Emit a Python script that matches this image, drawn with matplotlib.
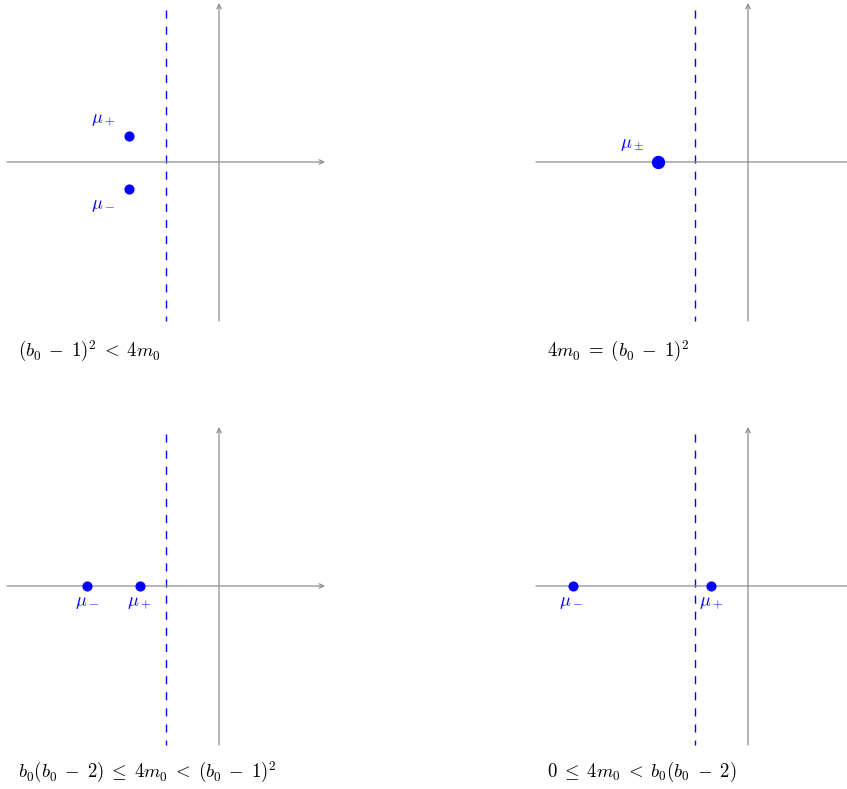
import matplotlib.pyplot as plt
import numpy as np

plt.rcParams['mathtext.fontset'] = 'cm'

# root positions (re, im) for each case, in plot units
roots_re = [[-1.7, -1.7], [-1.7], [-2.5, -1.5], [-3.3, -0.7]]
roots_im = [[0.5, -0.5], [0.0], [0.0, 0.0], [0.0, 0.0]]
root_labels = [[r'$\mu_+$', r'$\mu_-$'], [r'$\mu_\pm$'],
               [r'$\mu_-$', r'$\mu_+$'], [r'$\mu_-$', r'$\mu_+$']]
label_re = [[-2.19, -2.19], [-2.19], [-2.5, -1.5], [-3.34, -0.7]]
label_im = [[0.81, -0.81], [0.34], [-0.3, -0.3], [-0.3, -0.3]]
captions = [r'$(b_0\;-\;1)^2\;<\;4m_0$', r'$4m_0\;=\;(b_0\;-\;1)^2$',
            r'$b_0(b_0\;-\;2)\;\leq\;4m_0\;<\;(b_0\;-\;1)^2$',
            r'$0\;\leq\;4m_0\;<\;b_0(b_0\;-\;2)$']
dashed_re = -1.0
x_axis = (-4, 2)
y_axis = (-3, 3)

W, H = 847, 789
fig = plt.figure(figsize=(W / 100, H / 100), dpi=100)
scale = 53.0  # pixels per unit

# pixel boxes (x0, y0, w, h) from top-left and origin pixels
boxes = [(0, 0, 423, 394), (423, 0, 424, 394), (0, 394, 423, 395), (423, 394, 424, 395)]
origins = [(219, 162), (748, 162), (219, 586), (748, 586)]
cap_pos = [(-3.79, -3.58), (-3.79, -3.58), (-3.79, -3.51), (-3.79, -3.51)]
big = [False, True, False, False]

for i in range(4):
    x0, y0, w, h = boxes[i]
    ox, oy = origins[i]
    ax = fig.add_axes([x0 / W, 1 - (y0 + h) / H, w / W, h / H])
    ax.set_xlim((x0 - ox) / scale, (x0 + w - ox) / scale)
    ax.set_ylim((oy - (y0 + h)) / scale, (oy - y0) / scale)
    ax.axis('off')

    arrow = dict(arrowstyle='->', color='#8c8c8c', lw=0.9, shrinkA=0, shrinkB=0,
                 mutation_scale=8)
    ax.annotate('', xy=(x_axis[1], 0), xytext=(x_axis[0], 0), arrowprops=arrow,
                annotation_clip=False)
    ax.annotate('', xy=(0, y_axis[1]), xytext=(0, y_axis[0]), arrowprops=arrow,
                annotation_clip=False)

    ax.plot([dashed_re, dashed_re], [2.87, y_axis[0]], color='blue', lw=1.0,
            linestyle=(0, (5.8, 5.8)))

    ms = 8.6 if big[i] else 6.3
    ax.plot(roots_re[i], roots_im[i], 'o', color='blue', markersize=ms, zorder=5)
    for lx, ly, lab in zip(label_re[i], label_im[i], root_labels[i]):
        ax.text(lx, ly, lab, color='blue', fontsize=13, ha='center', va='center')

    ax.text(cap_pos[i][0], cap_pos[i][1], captions[i], fontsize=13.5,
            ha='left', va='center', color='black')

fig.savefig('out.png', dpi=100)
